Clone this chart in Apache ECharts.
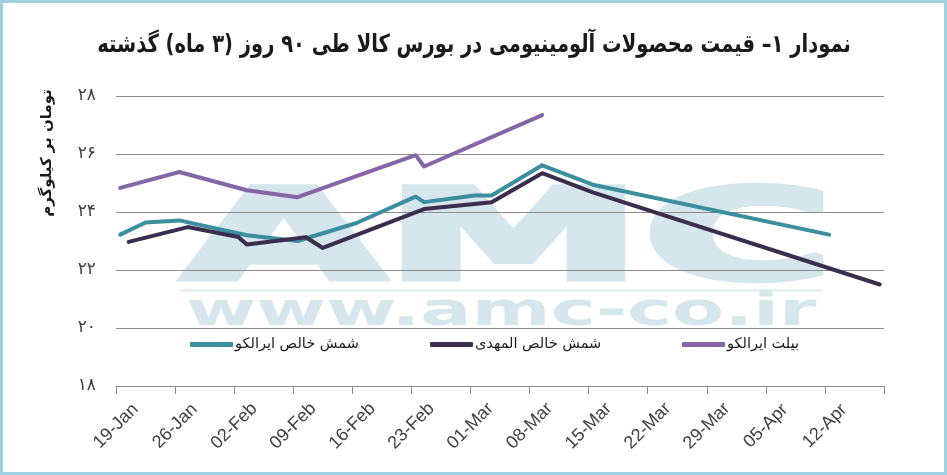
<!DOCTYPE html>
<html><head><meta charset="utf-8">
<script src="https://cdn.jsdelivr.net/npm/echarts@6/dist/echarts.min.js"></script>
<style>html,body{margin:0;padding:0;background:#fff;}#c{width:947px;height:475px;}</style>
</head><body><div id="c"></div>
<script>
// ---- data ----
const chartTitle = 'نمودار ۱– قیمت محصولات آلومینیومی در بورس کالا طی ۹۰ روز (۳ ماه) گذشته';
const yAxisTitle = 'تومان بر کیلوگرم';
const seriesNames = ['شمش خالص ایرالکو', 'شمش خالص المهدی', 'بیلت ایرالکو'];
const startDate = '2020-01-19';
const xTickLabels = ['19-Jan','26-Jan','02-Feb','09-Feb','16-Feb','23-Feb','01-Mar','08-Mar','15-Mar','22-Mar','29-Mar','05-Apr','12-Apr',''];
const yTickLabels = {18:'۱۸', 20:'۲۰', 22:'۲۲', 24:'۲۴', 26:'۲۶', 28:'۲۸'};

const iralcoIngotDates  = ['2020-01-19','2020-01-22','2020-01-26','2020-02-03','2020-02-09','2020-02-16','2020-02-23','2020-02-24','2020-03-01','2020-03-03','2020-03-09','2020-03-15','2020-04-12'];
const iralcoIngotValues = [23.22, 23.64, 23.71, 23.20, 23.00, 23.62, 24.53, 24.34, 24.57, 24.57, 25.61, 24.94, 23.22];

const almahdiIngotDates  = ['2020-01-20','2020-01-27','2020-02-02','2020-02-03','2020-02-10','2020-02-12','2020-02-24','2020-03-03','2020-03-09','2020-03-15','2020-04-18'];
const almahdiIngotValues = [22.97, 23.48, 23.14, 22.88, 23.13, 22.76, 24.10, 24.34, 25.34, 24.68, 21.50];

const iralcoBilletDates  = ['2020-01-19','2020-01-26','2020-02-03','2020-02-09','2020-02-23','2020-02-24','2020-03-09'];
const iralcoBilletValues = [24.83, 25.38, 24.75, 24.51, 25.96, 25.57, 27.34];

const seriesColors = ['#3a8e9d', '#3a2d4d', '#8565a6'];

// ---- helpers ----
const DAY = 86400000;
// each day occupies one slot on the date axis; a point sits in the middle of its day's slot
function dayPos(d) { return (Date.parse(d) - Date.parse(startDate)) / DAY + 0.5; }
function pairs(dates, vals) { return dates.map((d, i) => [dayPos(d), vals[i]]); }

const seriesData = [
  pairs(iralcoIngotDates, iralcoIngotValues),
  pairs(almahdiIngotDates, almahdiIngotValues),
  pairs(iralcoBilletDates, iralcoBilletValues)
];

const fa = '"DejaVu Sans", sans-serif';
const gridColor = '#8c8c8c';
const wmColor = '#d5e6ec';

const legendLefts = [190, 430, 682];

const chart = echarts.init(document.getElementById('c'), null, {renderer: 'canvas'});
chart.setOption({
  backgroundColor: '#ffffff',
  animation: false,
  grid: {left: 116, right: 63, top: 96, bottom: 89},
  xAxis: {
    type: 'value', min: 0, max: 91, interval: 7,
    axisLine: {show: true, lineStyle: {color: gridColor, width: 1}},
    axisTick: {show: true, length: 8, lineStyle: {color: gridColor}},
    splitLine: {show: false},
    axisLabel: {
      formatter: v => xTickLabels[Math.round(v / 7)] || '',
      rotate: 45, align: 'center', verticalAlign: 'middle', margin: 40,
      fontFamily: '"Liberation Sans Narrow", "Liberation Sans", sans-serif', fontSize: 18, color: '#404040'
    }
  },
  yAxis: {
    type: 'value', min: 18, max: 28, interval: 2,
    axisLine: {show: false}, axisTick: {show: false},
    splitLine: {show: true, lineStyle: {color: gridColor, width: 1}},
    axisLabel: {formatter: v => yTickLabels[v] || '', margin: 20, fontFamily: fa, fontSize: 17, color: '#404040'}
  },
  legend: legendLefts.map((lx, i) => ({
    data: [seriesNames[i]], left: lx, top: 337, padding: 0,
    icon: 'roundRect', itemWidth: 43, itemHeight: 5,
    textStyle: {fontFamily: fa, fontSize: 14.5, color: '#1a1a1a', padding: [0, 0, 0, -3]}
  })),
  series: seriesData.map((d, i) => ({
    name: seriesNames[i], type: 'line', data: d,
    showSymbol: false, symbol: 'none',
    lineStyle: {width: 4, color: seriesColors[i], cap: 'round', join: 'round'},
    itemStyle: {color: seriesColors[i]}
  })),
  graphic: [
    {type: 'text', z: -10, silent: true, x: 183, y: 246, scaleX: 2.08,
     style: {text: 'AMC', font: 'bold 125px "DejaVu Sans"', fill: wmColor, stroke: wmColor, lineWidth: 6,
             textAlign: 'left', textVerticalAlign: 'middle'}},
    {type: 'rect', z: -10, silent: true, shape: {x: 180, y: 289, width: 642, height: 3}, style: {fill: '#e8f1f4'}},
    {type: 'text', z: -10, silent: true, x: 186, y: 313, scaleX: 1.65,
     style: {text: 'www.amc-co.ir', font: 'bold 46px "DejaVu Sans"', fill: wmColor, textAlign: 'left', textVerticalAlign: 'middle'}},
    {type: 'text', silent: true, x: 474, y: 45, scaleX: 0.78,
     style: {text: chartTitle, font: 'bold 25px "DejaVu Sans"', fill: '#1a1a1a', textAlign: 'center', textVerticalAlign: 'middle'}},
    {type: 'text', silent: true, x: 47, y: 153, rotation: Math.PI / 2,
     style: {text: yAxisTitle, font: 'bold 15px "DejaVu Sans"', fill: '#1a1a1a', textAlign: 'center', textVerticalAlign: 'middle'}},
    {type: 'rect', z: 100, silent: true, shape: {x: 1.5, y: 1.5, width: 944, height: 472},
     style: {fill: 'none', stroke: '#9dd0e1', lineWidth: 3}}
  ]
});
</script></body></html>
